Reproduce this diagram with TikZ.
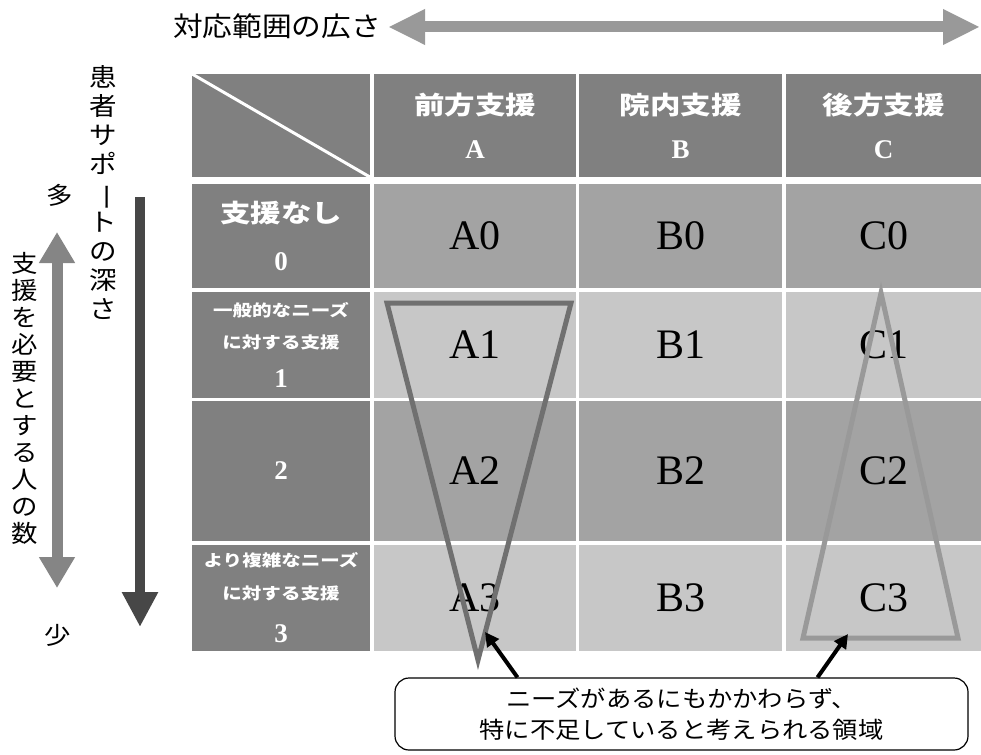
\documentclass[tikz,border=0pt]{standalone}
\usepackage{fontspec}
\usepackage{graphicx}
\usetikzlibrary{arrows.meta,calc}
\newfontfamily\jp[FakeStretch=1.1]{Noto Sans CJK JP}
\newfontfamily\jpb[FakeStretch=1.22]{Noto Sans CJK JP}
\newfontfamily\tms{Liberation Serif}
\definecolor{hdrgray}{gray}{0.50}
\definecolor{cellmid}{gray}{0.64}
\definecolor{celllight}{gray}{0.78}
\definecolor{triA}{gray}{0.44}
\definecolor{triC}{gray}{0.60}
\definecolor{arrlight}{gray}{0.60}
\definecolor{arrmid}{gray}{0.52}
\definecolor{arrdark}{gray}{0.28}
\tikzset{
  cell/.style={inner sep=0pt, font=\tms\fontsize{42}{42}\selectfont},
  hdr/.style={fill=hdrgray, text=white, inner sep=0pt, align=center},
  vtext/.style={inner sep=0pt, align=center, font=\jp\fontsize{25}{29}\selectfont},
  tri/.style={line width=5pt},
  callarrow/.style={line width=4pt, -{Triangle[length=14pt,width=14pt]}}
}
\newcommand{\digit}[1]{{\tms\bfseries\fontsize{27}{27}\selectfont #1}}
\newcommand{\vbar}{\rotatebox[origin=c]{-90}{ー}}
\begin{document}
\begin{tikzpicture}[x=1pt, y=-1pt]
	\useasboundingbox (0,0) rectangle (981,754);

	% top arrow
	\node[font=\jp\fontsize{27}{27}\selectfont, inner sep=0pt] (range) at (277,26) {対応範囲の広さ};
	\coordinate (rangeL) at (388,27);
	\coordinate (rangeR) at (980,27);
	\draw[arrlight, line width=11pt, {Triangle[length=37pt,width=33pt]}-{Triangle[length=37pt,width=33pt]}] (rangeL) -- (rangeR);

	% left side
	\node[vtext] (depth) at (103,193) {患\\者\\サ\\ポ\\\vbar\\ト\\の\\深\\さ};
	\node[vtext, font=\jp\fontsize{24}{27}\selectfont] (count) at (25,398) {支\\援\\を\\必\\要\\と\\す\\る\\人\\の\\数};
	\node[font=\jp\fontsize{24}{24}\selectfont, inner sep=0pt] (many) at (60,195) {多};
	\node[font=\jp\fontsize{24}{24}\selectfont, inner sep=0pt] (few) at (58,635) {少};
	\coordinate (cntT) at (57,232);
	\coordinate (cntB) at (57,588);
	\draw[arrmid, line width=11pt, {Triangle[length=31pt,width=34pt]}-{Triangle[length=31pt,width=34pt]}] (cntT) -- (cntB);
	\coordinate (dpT) at (140,197);
	\coordinate (dpB) at (140,627);
	\draw[arrdark, line width=10pt, -{Triangle[length=35pt,width=34pt]}] (dpT) -- (dpB);

	% header row
	\node[hdr, minimum width=178, minimum height=103] (corner) at (281,125.5) {};
	\draw[white, line width=3pt] (corner.north west) -- (corner.south east);
	\node[hdr, minimum width=202, minimum height=103, font=\jpb\bfseries\fontsize{25}{44}\selectfont] (hA) at (475,125.5) {前方支援\\\digit{A}};
	\node[hdr, minimum width=203, minimum height=103, font=\jpb\bfseries\fontsize{25}{44}\selectfont] (hB) at (680.5,125.5) {院内支援\\\digit{B}};
	\node[hdr, minimum width=195, minimum height=103, font=\jpb\bfseries\fontsize{25}{44}\selectfont] (hC) at (883.5,125.5) {後方支援\\\digit{C}};

	% row headers
	\node[hdr, minimum width=178, minimum height=104, font=\jpb\bfseries\fontsize{25}{48}\selectfont] (r0) at (281,236) {支援なし\\\digit{0}};
	\node[hdr, minimum width=178, minimum height=106, font=\jpb\bfseries\fontsize{16}{32}\selectfont] (r1) at (281,345) {一般的なニーズ\\に対する支援\\[7pt]\digit{1}};
	\node[hdr, minimum width=178, minimum height=140] (r2) at (281,471) {\digit{2}};
	\node[hdr, minimum width=178, minimum height=106, font=\jpb\bfseries\fontsize{16}{33}\selectfont] (r3) at (281,598) {より複雑なニーズ\\に対する支援\\[10pt]\digit{3}};

	% cells
	\foreach \c/\xl/\xr in {A/374/576, B/579/782, C/786/981}
	\foreach \r/\yt/\yb/\shade in {0/184/288/cellmid, 1/292/398/celllight, 2/401/541/cellmid, 3/545/651/celllight}
	\node[cell, fill=\shade, minimum width={\xr-\xl}, minimum height={\yb-\yt}] (\c\r) at ({(\xl+\xr)/2},{(\yt+\yb)/2}) {\c\r};

	% triangles
	\coordinate (a1) at (387,303);
	\coordinate (a2) at (571,303);
	\coordinate (a3) at (478,660);
	\draw[tri, triA] (a1) -- (a2) -- (a3) -- cycle;
	\coordinate (c1) at (881,293);
	\coordinate (c2) at (958,638);
	\coordinate (c3) at (803,638);
	\draw[tri, triC] (c1) -- (c2) -- (c3) -- cycle;

	% callout
	\node[draw, line width=1.2pt, rounded corners=14pt, fill=white, minimum width=573, minimum height=72, align=center, font=\jp\fontsize{23}{31}\selectfont] (gap) at (681.5,714) {ニーズがあるにもかかわらず、\\特に不足していると考えられる領域};
	\coordinate (tipA) at (485,632);
	\coordinate (tipC) at (848,634);
	\draw[callarrow] ([xshift=-164pt]gap.north) -- (tipA);
	\draw[callarrow] ([xshift=136pt]gap.north) -- (tipC);
\end{tikzpicture}
\end{document}
